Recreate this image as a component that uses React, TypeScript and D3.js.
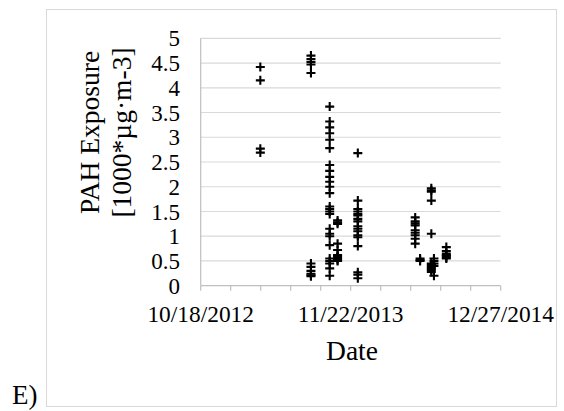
import React from 'react';
import * as d3 from 'd3';

// sampling dates and the PAH exposure readings taken on each of them
const sampleDates = [
  '2013-03-26', '2013-08-08', '2013-09-27', '2013-10-18', '2013-12-11',
  '2014-05-13', '2014-05-26', '2014-06-25', '2014-07-02', '2014-08-04',
];
const exposures = [
  [4.42, 4.15, 2.77, 2.69],
  [4.65, 4.58, 4.52, 4.47, 4.3, 0.45, 0.38, 0.3, 0.24, 0.21, 0.19],
  [3.62, 3.32, 3.2, 3.08, 2.95, 2.78, 2.44, 2.32, 2.2, 2.1, 2.0, 1.87, 1.6, 1.55, 1.5, 1.45, 1.15, 1.05, 1.0, 0.82, 0.55, 0.5, 0.45, 0.35, 0.2],
  [1.32, 1.28, 1.25, 0.85, 0.72, 0.62, 0.6, 0.57, 0.55, 0.52, 0.5],
  [2.68, 1.72, 1.55, 1.5, 1.45, 1.42, 1.35, 1.3, 1.2, 1.15, 1.1, 1.02, 0.98, 0.8, 0.27, 0.22, 0.15],
  [1.38, 1.3, 1.26, 1.22, 1.12, 1.07, 1.02, 0.95, 0.85],
  [0.55, 0.52, 0.5],
  [1.97, 1.93, 1.9, 1.72, 1.05, 0.45, 0.42, 0.38, 0.35, 0.32, 0.28],
  [0.55, 0.5, 0.45, 0.4, 0.2],
  [0.78, 0.7, 0.65, 0.62, 0.6, 0.57, 0.55],
];
const xLabels = ['10/18/2012', '11/22/2013', '12/27/2014'];
const yTicks = [0, 0.5, 1, 1.5, 2, 2.5, 3, 3.5, 4, 4.5, 5];

const width = 564;
const height = 411;
const font = '"Liberation Serif", "Times New Roman", serif';

const App = () => {
  const parse = d3.utcParse('%Y-%m-%d');
  const parseLabel = d3.utcParse('%m/%d/%Y');
  const start = parseLabel(xLabels[0]);
  const end = parseLabel(xLabels[2]);

  const x = d3.scaleUtc().domain([start, end]).range([200.7, 500.7]);
  const y = d3.scaleLinear().domain([0, 5]).range([285.7, 38.3]);

  // minor ticks every 80 days from the axis start
  const xTicks = d3.range(0, 801, 80).map((d) => d3.utcDay.offset(start, d));

  const points = sampleDates.flatMap((d, i) =>
    exposures[i].map((v) => ({ date: parse(d), value: v }))
  );

  const [y0] = y.range();

  return (
    <div style={{ position: 'absolute', left: 0, top: 0 }}>
      <svg width={width} height={height} style={{ display: 'block' }} fontFamily={font}>
        <rect x={0} y={0} width={width} height={height} fill="#fff" />
        <rect x={46.5} y={9.5} width={510} height={397} fill="none" stroke="#d9d9d9" />

        {yTicks.slice(1).map((t) => (
          <line key={t} x1={x.range()[0]} x2={x.range()[1]} y1={y(t)} y2={y(t)} stroke="#d9d9d9" strokeWidth={1.2} />
        ))}
        <line x1={x.range()[0]} x2={x.range()[0]} y1={y(5)} y2={y0} stroke="#bfbfbf" strokeWidth={1.2} />
        <line x1={x.range()[0]} x2={x.range()[1]} y1={y0} y2={y0} stroke="#bfbfbf" strokeWidth={1.2} />
        {xTicks.map((t, i) => (
          <line key={i} x1={x(t)} x2={x(t)} y1={y0} y2={y0 + 5} stroke="#bfbfbf" strokeWidth={1.2} />
        ))}

        {yTicks.map((t) => (
          <text key={t} x={180} y={y(t)} dy="0.35em" textAnchor="end" fontSize={23}>{t}</text>
        ))}
        {xLabels.map((l) => (
          <text key={l} x={x(parseLabel(l))} y={322} textAnchor="middle" fontSize={23.4}>{l}</text>
        ))}

        <text x={352} y={360} textAnchor="middle" fontSize={27.5}>Date</text>
        <text transform="translate(99,132.5) rotate(-90)" textAnchor="middle" fontSize={27.5}>PAH Exposure</text>
        <text transform="translate(130.5,132.5) rotate(-90)" textAnchor="middle" fontSize={27.5}>[1000*µg·m-3]</text>
        <text x={12} y={404} fontSize={27}>E)</text>

        <g stroke="#000" strokeWidth={2.1}>
          {points.map((p, i) => {
            const cx = x(p.date);
            const cy = y(p.value);
            return (
              <path key={i} d={`M${cx - 4.5},${cy}H${cx + 4.5}M${cx},${cy - 4.5}V${cy + 4.5}`} />
            );
          })}
        </g>
      </svg>
    </div>
  );
};

export default App;
